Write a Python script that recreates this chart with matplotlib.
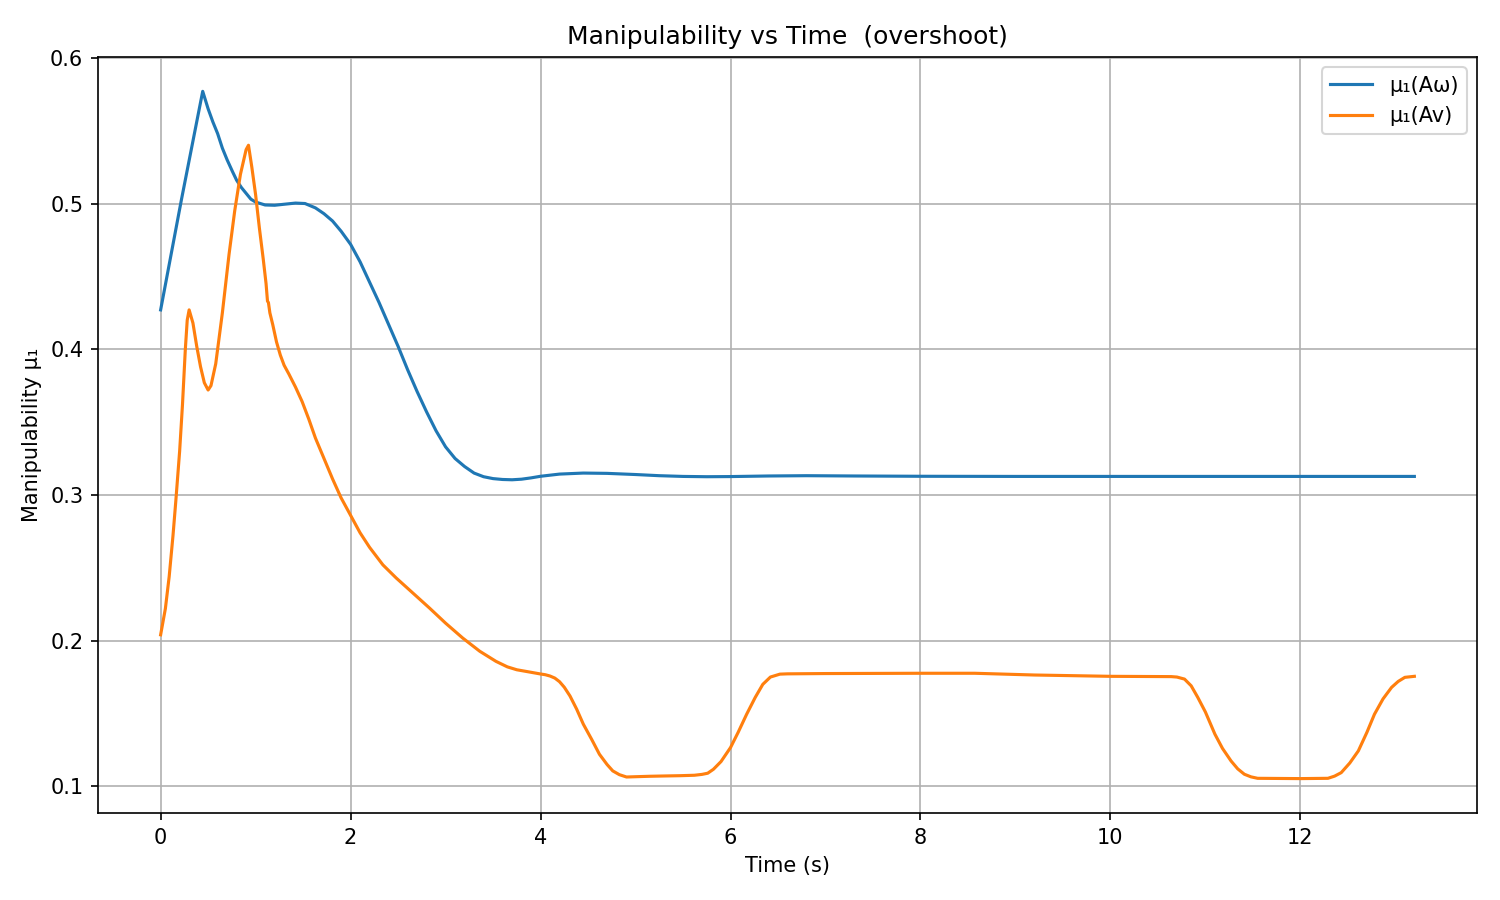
import matplotlib
matplotlib.use("Agg")
import matplotlib.pyplot as plt

t_w = [0.00, 0.22, 0.443, 0.50, 0.55, 0.60, 0.65, 0.70, 0.756, 0.80, 0.85, 0.90, 0.95, 1.00,
       1.10, 1.20, 1.30, 1.42, 1.52, 1.63, 1.72, 1.81, 1.90, 2.00, 2.10, 2.20, 2.30, 2.40,
       2.50, 2.60, 2.70, 2.80, 2.90, 3.00, 3.10, 3.20, 3.30, 3.40, 3.50, 3.60, 3.70, 3.80,
       3.90, 4.00, 4.20, 4.45, 4.70, 5.00, 5.25, 5.50, 5.75, 6.00, 6.40, 6.80, 7.30, 8.00,
       9.00, 10.0, 11.0, 12.0, 13.2]
mu_w = [0.427, 0.503, 0.577, 0.565, 0.556, 0.548, 0.538, 0.530, 0.522, 0.516, 0.511, 0.507,
        0.503, 0.501, 0.4990, 0.4988, 0.4995, 0.5003, 0.5000, 0.497, 0.493, 0.488, 0.481,
        0.472, 0.460, 0.446, 0.432, 0.417, 0.402, 0.386, 0.371, 0.357, 0.344, 0.333, 0.325,
        0.3195, 0.315, 0.3125, 0.3112, 0.3106, 0.3104, 0.3108, 0.3117, 0.3128, 0.3143,
        0.3150, 0.3148, 0.3140, 0.3132, 0.3127, 0.3125, 0.3126, 0.3130, 0.3132, 0.3130,
        0.3128, 0.3127, 0.3127, 0.3127, 0.3127, 0.3127]

t_v = [0.00, 0.05, 0.09, 0.13, 0.16, 0.20, 0.23, 0.26, 0.28, 0.30, 0.34, 0.38, 0.42, 0.46,
       0.50, 0.53, 0.58, 0.65, 0.72, 0.78, 0.84, 0.90, 0.925, 0.96, 1.00, 1.04, 1.08, 1.11,
       1.125, 1.135, 1.15, 1.18, 1.22, 1.26, 1.30, 1.35, 1.42, 1.49, 1.56, 1.63, 1.72, 1.81,
       1.90, 2.00, 2.10, 2.20, 2.34, 2.48, 2.65, 2.83, 3.00, 3.18, 3.36, 3.53, 3.65, 3.75,
       3.88, 4.00, 4.05, 4.10, 4.15, 4.20, 4.25, 4.31, 4.38, 4.45, 4.54, 4.62, 4.70, 4.76,
       4.83, 4.905, 5.00, 5.15, 5.30, 5.47, 5.62, 5.70, 5.76, 5.82, 5.90, 6.00, 6.08, 6.17,
       6.26, 6.34, 6.42, 6.52, 6.60, 7.00, 8.00, 8.57, 9.20, 10.0, 10.64, 10.70, 10.78,
       10.85, 10.92, 11.00, 11.10, 11.18, 11.27, 11.34, 11.41, 11.48, 11.55, 12.00, 12.29,
       12.36, 12.43, 12.52, 12.61, 12.70, 12.78, 12.87, 12.96, 13.03, 13.10, 13.20]
mu_v = [0.204, 0.222, 0.244, 0.272, 0.296, 0.330, 0.362, 0.400, 0.420, 0.427, 0.418, 0.402,
        0.388, 0.377, 0.372, 0.375, 0.390, 0.425, 0.465, 0.495, 0.520, 0.537, 0.540, 0.525,
        0.506, 0.483, 0.462, 0.445, 0.433, 0.432, 0.425, 0.417, 0.405, 0.396, 0.389, 0.383,
        0.374, 0.364, 0.352, 0.339, 0.325, 0.311, 0.298, 0.286, 0.274, 0.264, 0.252, 0.243,
        0.233, 0.2224, 0.212, 0.2018, 0.1927, 0.1858, 0.182, 0.180, 0.1785, 0.1771, 0.1766,
        0.1757, 0.1743, 0.1718, 0.1680, 0.1620, 0.1530, 0.1427, 0.132, 0.122, 0.115, 0.1106,
        0.108, 0.1064, 0.1066, 0.1069, 0.1071, 0.1073, 0.1076, 0.1082, 0.109, 0.1117, 0.117,
        0.1266, 0.137, 0.1495, 0.161, 0.170, 0.175, 0.177, 0.1772, 0.1774, 0.1776, 0.1776,
        0.1764, 0.1755, 0.1753, 0.1750, 0.1736, 0.169, 0.161, 0.151, 0.1358, 0.126, 0.1174,
        0.112, 0.1083, 0.1065, 0.1055, 0.1053, 0.1055, 0.107, 0.1094, 0.116, 0.1243, 0.137,
        0.1495, 0.160, 0.1679, 0.172, 0.1748, 0.1755]

fig, ax = plt.subplots(figsize=(10, 6), dpi=150)
ax.plot(t_w, mu_w, label="μ₁(Aω)")
ax.plot(t_v, mu_v, label="μ₁(Av)")
ax.set_title("Manipulability vs Time  (overshoot)")
ax.set_xlabel("Time (s)")
ax.set_ylabel("Manipulability μ₁")
ax.grid(True)
ax.legend(loc="upper right")
fig.subplots_adjust(left=0.0653, right=0.9847, top=0.9367, bottom=0.0967)
fig.savefig("out.png", dpi=150)
